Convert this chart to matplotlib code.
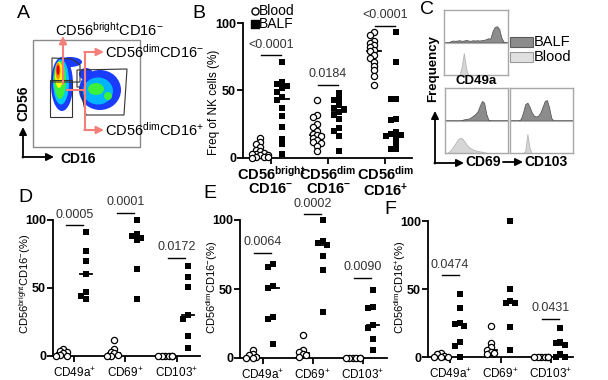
import numpy as np
import matplotlib
matplotlib.use('Agg')
import matplotlib.pyplot as plt
from matplotlib.patches import Rectangle, Ellipse, Polygon

plt.rcParams['font.family'] = ['Liberation Sans', 'DejaVu Sans']
plt.rcParams['mathtext.fontset'] = 'custom'
plt.rcParams['mathtext.rm'] = 'Liberation Sans'
plt.rcParams['mathtext.bf'] = 'Liberation Sans:bold'
plt.rcParams['mathtext.it'] = 'Liberation Sans:italic'

W, H = 608, 380

# ---- panel B : % of NK subsets, blood vs BALF ----
b_cats = ['CD56$^{\\mathbf{bright}}$\nCD16$^{\\mathbf{-}}$',
          'CD56$^{\\mathbf{dim}}$\nCD16$^{\\mathbf{-}}$',
          'CD56$^{\\mathbf{dim}}$\nCD16$^{\\mathbf{+}}$']
b_blood = [[15, 12, 10, 8, 6, 5, 4, 3, 3, 2, 2, 1, 1, 0.5, 0],
           [43, 32, 30, 25, 23, 20, 18, 17, 16, 15, 13, 12, 11, 9, 5],
           [93, 91, 87, 85, 84, 82, 80, 79, 76, 74, 71, 68, 65, 61, 54]]
b_balf = [[71, 56, 55, 53, 52, 49, 45, 43, 37, 31, 23, 14, 10, 3],
          [48, 44, 43, 39, 37, 36, 34, 32, 29, 22, 20, 16, 5],
          [93, 71, 44, 44, 29, 28, 19, 18, 17, 16, 15, 11, 7, 7]]
b_p = ['<0.0001', '0.0184', '<0.0001']
b_p_y = [76, 54, 98]

# ---- panels D-F : marker expression ----
def_cats = ['CD49a$^{+}$', 'CD69$^{+}$', 'CD103$^{+}$']
d_blood = [[5, 4, 3, 2, 1, 0, 0], [12, 5, 3, 2, 1, 0, 0], [0, 0, 0, 0, 0, 0]]
d_balf = [[91, 77, 70, 60, 47, 44, 42], [100, 90, 88, 87, 85, 64, 42],
          [66, 58, 51, 30, 27, 15, 6]]
d_p = ['0.0005', '0.0001', '0.0172']
d_p_y = [96, 105, 72]

e_blood = [[6, 3, 2, 1, 0, 0], [17, 6, 4, 3, 2, 1], [0, 0, 0, 0, 0, 0]]
e_balf = [[68, 66, 52, 51, 30, 28, 10], [100, 85, 83, 82, 74, 64, 33],
          [49, 37, 36, 24, 22, 14, 6]]
e_p = ['0.0064', '0.0002', '0.0090']
e_p_y = [76, 104, 58]

f_blood = [[3, 2, 1, 0, 0, 0], [23, 10, 7, 5, 4, 3, 2], [0, 0, 0, 0, 0, 0]]
f_balf = [[46, 36, 25, 24, 23, 11, 8, 0], [100, 50, 41, 40, 40, 22, 5],
          [21, 11, 10, 9, 2, 0, 0]]
f_p = ['0.0474', None, '0.0431']
f_p_y = [60, None, 28]

# ---- panel C : histograms (relative height per bin) ----
cd49a_balf = [0, 0, 0, 0.04, 0.06, 0.05, 0.06, 0.07, 0.05, 0.06, 0.08, 0.06, 0.05, 0.07, 0.06,
              0.07, 0.06, 0.07, 0.08, 0.1, 0.13, 0.12, 0.35, 0.48, 0.5, 0.42, 0.15, 0.02, 0, 0]
cd49a_blood = [0, 0, 0, 0, 0, 0, 0, 0, 0.25, 0.67, 0.2, 0, 0, 0, 0,
               0, 0, 0, 0, 0, 0, 0, 0, 0, 0, 0, 0, 0, 0, 0]
cd69_balf = [0, 0, 0, 0, 0, 0, 0, 0, 0.02, 0.04, 0.05, 0.06, 0.1, 0.15, 0.2,
             0.28, 0.45, 0.6, 0.55, 0.2, 0.02, 0, 0, 0, 0, 0, 0, 0, 0, 0]
cd69_blood = [0, 0, 0.05, 0.12, 0.22, 0.32, 0.42, 0.47, 0.44, 0.35, 0.25, 0.18, 0.14, 0.1, 0.08,
              0.06, 0.05, 0.04, 0.02, 0.01, 0, 0, 0, 0, 0, 0, 0, 0, 0, 0]
cd103_balf = [0, 0, 0, 0, 0, 0.05, 0.25, 0.5, 0.55, 0.42, 0.25, 0.15, 0.12, 0.15, 0.25,
              0.42, 0.6, 0.63, 0.4, 0.08, 0, 0, 0, 0, 0, 0, 0, 0, 0, 0]
cd103_blood = [0, 0, 0, 0, 0, 0, 0, 0.05, 0.58, 0.15, 0, 0, 0, 0, 0,
               0, 0, 0, 0, 0, 0, 0, 0, 0, 0, 0, 0, 0, 0, 0]

fig = plt.figure(figsize=(W / 100, H / 100), dpi=100)


def px_axes(x0, y0, x1, y1):
    return fig.add_axes([x0 / W, 1 - y1 / H, (x1 - x0) / W, (y1 - y0) / H])


def swarm(vals, thr, step):
    # simple beeswarm: spread points that would overlap
    vals = np.asarray(vals, float)
    offs = np.zeros(len(vals))
    placed = []
    for idx in np.argsort(-vals, kind='stable'):
        cand = 0
        for p in [0, -1, 1, -2, 2]:
            cand = p * step
            if all(abs(vals[idx] - vals[j]) >= thr or abs(cand - offs[j]) >= step * 0.99
                   for j in placed):
                break
        offs[idx] = cand
        placed.append(idx)
    return offs


def dotplot(ax, blood, balf, cats, pvals, pys, xlim, off, tickbold, tickfs):
    for i in range(len(cats)):
        xb = i - off + swarm(blood[i], 2.5, 0.07)
        xs = i + off + swarm(balf[i], 3.5, 0.09)
        ax.plot([i - off - 0.12, i - off + 0.12], [np.median(blood[i])] * 2, color='k', lw=1.3, zorder=2)
        ax.plot([i + off - 0.12, i + off + 0.12], [np.median(balf[i])] * 2, color='k', lw=1.3, zorder=2)
        ax.scatter(xb, blood[i], s=20, marker='o', facecolor='white', edgecolor='k',
                   linewidth=0.9, zorder=3, clip_on=False)
        ax.scatter(xs, balf[i], s=16, marker='s', color='k', linewidth=0, zorder=3, clip_on=False)
        if pvals[i] is not None:
            ax.plot([i - 0.17, i + 0.17], [pys[i]] * 2, color='k', lw=1.0, clip_on=False)
            ax.text(i, pys[i] + 3.5, pvals[i], ha='center', va='bottom', fontsize=9, color='#333333')
    ax.set_xlim(*xlim)
    ax.set_ylim(0, 100)
    ax.set_yticks([0, 50, 100])
    ax.set_yticklabels(['0', '50', '100'], fontweight='bold', fontsize=9)
    ax.set_xticks(range(len(cats)))
    ax.set_xticklabels(cats, fontweight=tickbold, fontsize=tickfs)
    for s in ['top', 'right']:
        ax.spines[s].set_visible(False)
    for s in ['left', 'bottom']:
        ax.spines[s].set_linewidth(1.3)
    ax.tick_params(length=4, width=1.3, pad=1)
    ax.set_facecolor('none')


# panel B
axb = px_axes(243, 23, 412, 158)
dotplot(axb, b_blood, b_balf, b_cats, b_p, b_p_y, (-0.49, 2.47), 0.19, 'bold', 10.5)
for t in axb.get_xticklabels():
    t.set_linespacing(0.95)

# panels D, E, F
axd = px_axes(53, 220, 200, 356)
dotplot(axd, d_blood, d_balf, def_cats, d_p, d_p_y, (-0.42, 2.46), 0.22, 'normal', 8.5)
axe = px_axes(240, 220, 387, 358)
dotplot(axe, e_blood, e_balf, def_cats, e_p, e_p_y, (-0.45, 2.49), 0.2, 'normal', 8.5)
axf = px_axes(428, 221, 573, 357)
dotplot(axf, f_blood, f_balf, def_cats, f_p, f_p_y, (-0.44, 2.44), 0.19, 'normal', 8.5)
for a in (axd, axe, axf):
    a.tick_params(axis='x', pad=3)

# panel C histograms
hist_boxes = [((444, 10, 508, 75), cd49a_balf, cd49a_blood),
              ((445, 88, 508, 153), cd69_balf, cd69_blood),
              ((510, 88, 573, 153), cd103_balf, cd103_blood)]
for box, hb, hl in hist_boxes:
    axh = px_axes(*box)
    x = np.arange(len(hb))
    axh.fill_between(x, 1, 1 + np.array(hb), color='#8c8c8c', edgecolor='#5c5c5c', lw=0.6)
    axh.fill_between(x, 0, hl, color='#d6d6d6', edgecolor='#b4b4b4', lw=0.6)
    axh.axhline(1, color='#b0b0b0', lw=0.8)
    axh.set_xlim(0, len(hb) - 1)
    axh.set_ylim(0, 2)
    axh.set_xticks([])
    axh.set_yticks([])
    for s in axh.spines.values():
        s.set_color('#a8a8a8')
        s.set_linewidth(1.0)

# overlay in pixel coordinates for panel letters, flow plot and annotations
ov = fig.add_axes([0, 0, 1, 1])
ov.set_xlim(0, W)
ov.set_ylim(H, 0)
ov.axis('off')
ov.patch.set_visible(False)

for lab, (lx, ly) in zip('ABCDEF', [(23, 13), (199, 14), (427, 10), (25, 197), (210, 193), (390, 209)]):
    ov.text(lx, ly, lab, fontsize=14, ha='center', va='center')

# panel A flow plot
ov.add_patch(Rectangle((33, 40), 107, 107, fill=False, ec='#8a8a8a', lw=1.0))
blobs = [((100, 90), 42, 40, '#1a3cff'), ((86, 74), 14, 12, '#1a3cff'), ((98, 91), 30, 27, '#00b4ff'),
         ((96, 89), 16, 12, '#3cf03c'), ((108, 96), 8, 8, '#3cf03c'),
         ((62, 84), 22, 54, '#1a3cff'), ((70, 62), 24, 10, '#1a3cff'), ((61, 82), 16, 45, '#00c8ff'),
         ((60, 80), 12, 38, '#3cf03c'), ((59, 75), 8, 26, '#ffff00'), ((58, 71), 5, 17, '#ff8c00'),
         ((58, 70), 3, 10, '#e00000')]
for (cx, cy), w, h, c in blobs:
    ov.add_patch(Ellipse((cx, cy), w, h, color=c, lw=0))
gate_kw = dict(fill=False, ec='#333333', lw=0.8)
ov.add_patch(Polygon([(52, 58), (72, 59), (80, 65), (80, 82), (52, 82)], **gate_kw))
ov.add_patch(Rectangle((50, 80), 22, 37, **gate_kw))
ov.add_patch(Polygon([(77, 70), (127, 69), (124, 115), (86, 115), (80, 87), (77, 87)], **gate_kw))

pink = '#f47f7a'
akw = dict(arrowstyle='-|>', color=pink, lw=1.5, mutation_scale=11, shrinkA=0, shrinkB=0)
ov.annotate('', xy=(63, 36), xytext=(63, 84), arrowprops=akw)
ov.plot([67, 85, 85], [90, 90, 52], color=pink, lw=1.5)
ov.plot([85, 85], [90, 130], color=pink, lw=1.5)
ov.annotate('', xy=(104, 52), xytext=(84.3, 52), arrowprops=akw)
ov.annotate('', xy=(104, 130), xytext=(84.3, 130), arrowprops=akw)
ov.text(55, 30, 'CD56$^{\\mathrm{bright}}$CD16$^{-}$', fontsize=10.5, ha='left', va='center')
ov.text(105, 52, 'CD56$^{\\mathrm{dim}}$CD16$^{-}$', fontsize=10.5, ha='left', va='center')
ov.text(105, 130, 'CD56$^{\\mathrm{dim}}$CD16$^{+}$', fontsize=10.5, ha='left', va='center')

kkw = dict(arrowstyle='-|>', color='k', lw=1.3, mutation_scale=11, shrinkA=0, shrinkB=0)
ov.annotate('', xy=(23, 127), xytext=(23, 157.6), arrowprops=kkw)
ov.annotate('', xy=(54, 157), xytext=(22.4, 157), arrowprops=kkw)
ov.text(23, 103, 'CD56', fontsize=10, fontweight='bold', rotation=90, ha='center', va='center')
ov.text(60, 159, 'CD16', fontsize=10, fontweight='bold', ha='left', va='center')

# panel B legend
ov.scatter([255], [11], s=26, marker='o', facecolor='white', edgecolor='k', linewidth=1.0)
ov.scatter([255], [24], s=26, marker='s', color='k')
ov.text(259, 11, 'Blood', fontsize=10, ha='left', va='center')
ov.text(259, 24.5, 'BALF', fontsize=10, ha='left', va='center')

# y labels
ov.text(214, 102, 'Freq of NK cells (%)', fontsize=8.5, rotation=90, ha='center', va='center')
ov.text(25, 284, 'CD56$^{\\mathrm{bright}}$CD16$^{-}$(%)', fontsize=8, rotation=90, ha='center', va='center')
ov.text(212, 287, 'CD56$^{\\mathrm{dim}}$CD16$^{-}$(%)', fontsize=8, rotation=90, ha='center', va='center')
ov.text(400, 287, 'CD56$^{\\mathrm{dim}}$CD16$^{+}$(%)', fontsize=8, rotation=90, ha='center', va='center')

# panel C legend and axis arrows
ov.add_patch(Rectangle((510, 37), 23, 10, fc='#8c8c8c', ec='#5c5c5c', lw=0.8))
ov.add_patch(Rectangle((510, 52), 23, 10, fc='#e0e0e0', ec='#9a9a9a', lw=0.8))
ov.text(534, 42, 'BALF', fontsize=10.5, ha='left', va='center')
ov.text(534, 57, 'Blood', fontsize=10.5, ha='left', va='center')
ov.text(476, 81, 'CD49a', fontsize=9.5, fontweight='bold', ha='center', va='center')
ov.text(433, 68, 'Frequency', fontsize=9.5, fontweight='bold', rotation=90, ha='center', va='center')
ov.annotate('', xy=(435, 111), xytext=(435, 163.6), arrowprops=kkw)
ov.annotate('', xy=(464, 163), xytext=(434.4, 163), arrowprops=kkw)
ov.annotate('', xy=(523, 162), xytext=(503, 162), arrowprops=kkw)
ov.text(465, 162, 'CD69', fontsize=10, fontweight='bold', ha='left', va='center')
ov.text(524, 162, 'CD103', fontsize=10, fontweight='bold', ha='left', va='center')

fig.savefig('out.png', dpi=100)
